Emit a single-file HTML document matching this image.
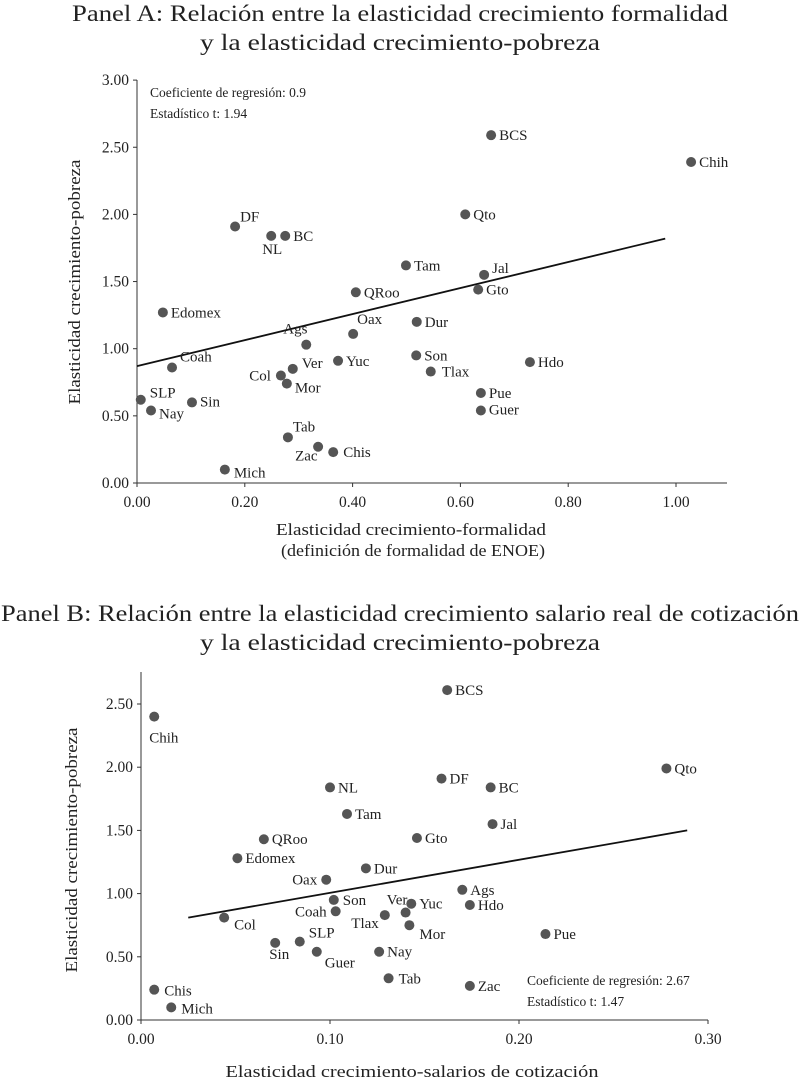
<!DOCTYPE html>
<html><head><meta charset="utf-8">
<style>
body{margin:0;background:#fff;}
svg{display:block;font-family:"Liberation Serif",serif;}
</style></head>
<body>
<svg id="chart" width="800" height="1080"></svg>
<script>
// Panel A data
const namesA=["BCS","Chih","Qto","DF","NL","BC","Tam","Jal","Gto","Edomex","QRoo","Dur","Oax","Ags","Coah","Ver","Yuc","Son","Hdo","Col","Mor","Tlax","SLP","Nay","Sin","Pue","Guer","Tab","Zac","Chis","Mich"];
const xA=[0.657,1.028,0.609,0.182,0.249,0.275,0.499,0.644,0.633,0.048,0.406,0.519,0.401,0.314,0.065,0.289,0.373,0.518,0.729,0.267,0.278,0.545,0.007,0.026,0.102,0.638,0.638,0.280,0.336,0.364,0.163];
const yA=[2.59,2.39,2.00,1.91,1.84,1.84,1.62,1.55,1.44,1.27,1.42,1.20,1.11,1.03,0.86,0.85,0.91,0.95,0.90,0.80,0.74,0.83,0.62,0.54,0.60,0.67,0.54,0.34,0.27,0.23,0.10];
const xTicksA=[0,0.2,0.4,0.6,0.8,1.0];
const xTickLabelsA=["0.00","0.20","0.40","0.60","0.80","1.00"];
const yTicksA=[0,0.5,1,1.5,2,2.5,3];
const yTickLabelsA=["0.00","0.50","1.00","1.50","2.00","2.50","3.00"];
const regA=[[0,0.87],[0.98,1.82]];
// Panel B data
const namesB=["BCS","Chih","Qto","NL","DF","BC","Tam","Jal","QRoo","Gto","Edomex","Dur","Oax","Ags","Son","Ver","Yuc","Hdo","Coah","Col","Tlax","Mor","Pue","Sin","SLP","Guer","Nay","Tab","Zac","Chis","Mich"];
const xB=[0.162,0.007,0.278,0.100,0.159,0.185,0.109,0.186,0.065,0.146,0.051,0.119,0.098,0.170,0.102,0.140,0.143,0.174,0.103,0.044,0.129,0.142,0.214,0.071,0.084,0.093,0.126,0.131,0.174,0.007,0.016];
const yB=[2.61,2.40,1.99,1.84,1.91,1.84,1.63,1.55,1.43,1.44,1.28,1.20,1.11,1.03,0.95,0.85,0.92,0.91,0.86,0.81,0.83,0.75,0.68,0.61,0.62,0.54,0.54,0.33,0.27,0.24,0.10];
const xTicksB=[0,0.1,0.2,0.3];
const xTickLabelsB=["0.00","0.10","0.20","0.30"];
const yTicksB=[0,0.5,1,1.5,2,2.5];
const yTickLabelsB=["0.00","0.50","1.00","1.50","2.00","2.50"];
const regB=[[0.025,0.81],[0.289,1.50]];

// label offsets [dx,dy,anchor]
const offA={DF:[5,-5],NL:[-9,18],Tab:[5,-6],Zac:[-23,14],Mich:[9,8],Col:[-10,5,"end"],Ags:[-23,-11],Ver:[9,-1],Oax:[4,-10],Coah:[8,-6],Chis:[10,5],Tlax:[11,5],Mor:[8,9],Guer:[8,4],Nay:[8,8],SLP:[9,-2],Sin:[8,4],Jal:[8,-2],Gto:[8,5]};
const offB={Chih:[-5,26],Col:[10,12],Coah:[-9,5,"end"],Sin:[-6,16],SLP:[9,-4],Guer:[8,16],Tlax:[-6,13,"end"],Ver:[-19,-8],Mor:[10,14],Son:[9,5],Oax:[-9,5,"end"],Chis:[10,6],Mich:[10,6],Tab:[10,5]};

const svg=document.getElementById('chart');
const NS="http://www.w3.org/2000/svg";
function mk(tag,attrs,parent){const e=document.createElementNS(NS,tag);for(const k in attrs)e.setAttribute(k,attrs[k]);(parent||svg).appendChild(e);return e;}
function txt(s,x,y,size,anchor,parent){const t=mk('text',{x:x,y:y,'font-size':size,'text-anchor':anchor||'start',fill:'#222'},parent);t.textContent=s;return t;}

function panel(cfg){
  const g=mk('g',{});
  
  
  const sx=v=>cfg.x0+v*cfg.xs, sy=v=>cfg.y0-v*cfg.ys;
  const ya=mk('line',{x1:cfg.x0,y1:cfg.yTop,x2:cfg.x0,y2:cfg.y0,stroke:'#333','stroke-width':1},g);
  
  const xa=mk('line',{x1:cfg.x0,y1:cfg.y0,x2:cfg.xEnd,y2:cfg.y0,stroke:'#333','stroke-width':1},g);
  
  cfg.yt.forEach((v,i)=>{
    mk('line',{x1:cfg.x0-4,y1:sy(v),x2:cfg.x0,y2:sy(v),stroke:'#333'},g);
    const t=txt(cfg.ytl[i],cfg.x0-8,sy(v)+5,15.5,'end',g);
    
  });
  cfg.xt.forEach((v,i)=>{
    mk('line',{x1:sx(v),y1:cfg.y0,x2:sx(v),y2:cfg.y0+4,stroke:'#333'},g);
    const t=txt(cfg.xtl[i],sx(v),cfg.y0+24,15.5,'middle',g);
    
  });
  const rl=mk('line',{x1:sx(cfg.reg[0][0]),y1:sy(cfg.reg[0][1]),x2:sx(cfg.reg[1][0]),y2:sy(cfg.reg[1][1]),stroke:'#111','stroke-width':1.8},g);
  
  cfg.names.forEach((n,i)=>{
    const cx=sx(cfg.xs_[i]),cy=sy(cfg.ys_[i]);
    const c=mk('circle',{cx:cx,cy:cy,r:5,fill:'#555'},g);
    
    
    const o=cfg.off[n]||[8,5];
    const t=txt(n,cx+o[0],cy+o[1],15,o[2]||'start',g);
    
    
  });
}
panel({name:'panel-a',x0:137,y0:483,yTop:80,xEnd:727,xs:539,ys:134.3,xt:xTicksA,xtl:xTickLabelsA,yt:yTicksA,ytl:yTickLabelsA,reg:regA,names:namesA,xs_:xA,ys_:yA,off:offA});
panel({name:'panel-b',x0:141,y0:1020,yTop:672,xEnd:708,xs:1890,ys:126.4,xt:xTicksB,xtl:xTickLabelsB,yt:yTicksB,ytl:yTickLabelsB,reg:regB,names:namesB,xs_:xB,ys_:yB,off:offB});

function label(s,x,y,size,anchor,name,rot,len){const t=txt(s,x,y,size,anchor);if(len){t.setAttribute('textLength',len);t.setAttribute('lengthAdjust','spacingAndGlyphs');}if(rot)t.setAttribute('transform','rotate(-90 '+x+' '+y+')');return t;}
label("Panel A: Relación entre la elasticidad crecimiento formalidad",400,21,23,'middle','panel-a-title-line1',false,656);
label("y la elasticidad crecimiento-pobreza",400,50,23,'middle','panel-a-title-line2',false,400);
label("Coeficiente de regresión: 0.9",150,97,13.5,'start','panel-a-coefficient');
label("Estadístico t: 1.94",150,118,13.5,'start','panel-a-t-stat');
label("Elasticidad crecimiento-pobreza",80,282,16.5,'middle','panel-a-y-axis-title',true,245);
label("Elasticidad crecimiento-formalidad",411,535,16.5,'middle','panel-a-x-axis-title',false,270);
label("(definición de formalidad de ENOE)",413,556,16.5,'middle','panel-a-x-axis-subtitle',false,264);
label("Panel B: Relación entre la elasticidad crecimiento salario real de cotización",400,621,23,'middle','panel-b-title-line1',false,798);
label("y la elasticidad crecimiento-pobreza",400,650,23,'middle','panel-b-title-line2',false,400);
label("Coeficiente de regresión: 2.67",527,985,13.5,'start','panel-b-coefficient');
label("Estadístico t: 1.47",527,1006,13.5,'start','panel-b-t-stat');
label("Elasticidad crecimiento-pobreza",77,850,16.5,'middle','panel-b-y-axis-title',true,245);
label("Elasticidad crecimiento-salarios de cotización",412,1077,16.5,'middle','panel-b-x-axis-title',false,373);
</script>
</body></html>
